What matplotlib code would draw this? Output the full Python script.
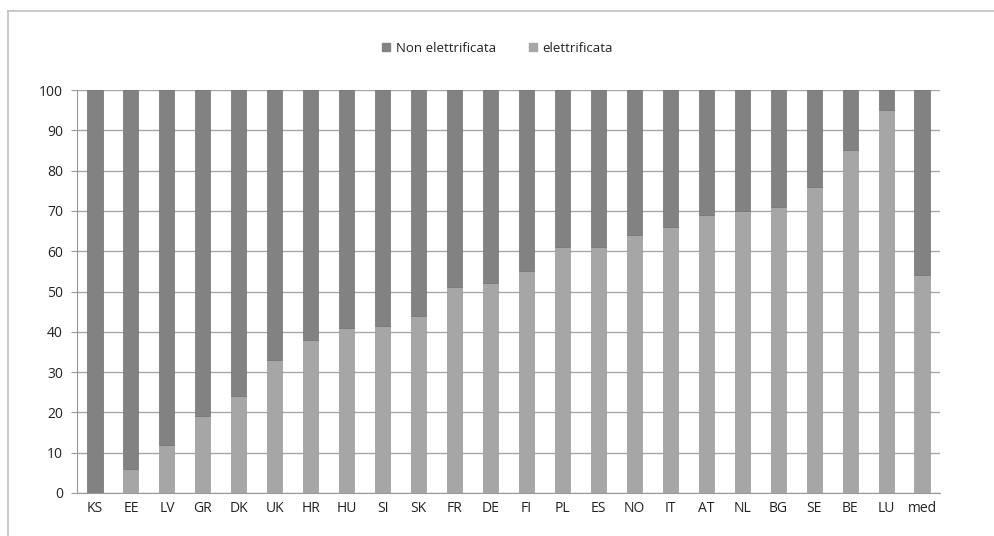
import matplotlib.pyplot as plt
from matplotlib.lines import Line2D

plt.rcParams['font.family'] = ['Open Sans', 'DejaVu Sans']

# Data (percentages)
paesi = ['KS', 'EE', 'LV', 'GR', 'DK', 'UK', 'HR', 'HU', 'SI', 'SK', 'FR', 'DE',
         'FI', 'PL', 'ES', 'NO', 'IT', 'AT', 'NL', 'BG', 'SE', 'BE', 'LU', 'med']
elettrificata = [0, 6, 12, 19, 24, 33, 38, 41, 41.5, 44, 51, 52,
                 55, 61, 61, 64, 66, 69, 70, 71, 76, 85, 95, 54]
non_elettrificata = [100 - v for v in elettrificata]

col_non = '#828282'
col_el = '#a6a6a6'

fig = plt.figure(figsize=(9.95, 5.36), dpi=100)
ax = fig.add_axes([77 / 995, 1 - 493 / 536, (940 - 77) / 995, (493 - 90) / 536])

x = range(len(paesi))
ax.bar(x, elettrificata, width=0.42, color=col_el, edgecolor='#999999', linewidth=0.5,
       label='elettrificata', zorder=3)
ax.bar(x, non_elettrificata, width=0.42, bottom=elettrificata, color=col_non,
       edgecolor='#707070', linewidth=0.5, label='Non elettrificata', zorder=3)

ax.set_xlim(-0.5, len(paesi) - 0.5)
ax.set_ylim(0, 100)
ax.set_yticks(range(0, 101, 10))
ax.set_xticks(list(x))
ax.set_xticklabels(paesi)
ax.grid(axis='y', color='#a8a8a8', linewidth=1, zorder=0)
ax.tick_params(axis='both', labelsize=10, colors='#222222', length=4, width=0.8)
ax.tick_params(axis='x', length=0, pad=6)
ax.tick_params(axis='y', colors='#999999', labelcolor='#222222', pad=6)
for s in ['top', 'right']:
    ax.spines[s].set_visible(False)
ax.spines['left'].set_color('#999999')
ax.spines['bottom'].set_color('#999999')

handles = [plt.Rectangle((0, 0), 1, 1, color=col_non), plt.Rectangle((0, 0), 1, 1, color=col_el)]
leg = fig.legend(handles, ['Non elettrificata', 'elettrificata'], loc='center',
                 bbox_to_anchor=(0.5, 1 - 48 / 536), ncol=2, frameon=False, fontsize=9.5,
                 handlelength=0.6, handleheight=0.6, columnspacing=2.5, handletextpad=0.4)
for t in leg.get_texts():
    t.set_color('#222222')

# outer frame (top and left edges)
fig.add_artist(Line2D([8 / 995, 1], [1 - 11 / 536] * 2, color='#c0c0c0', linewidth=1.2,
                      transform=fig.transFigure))
fig.add_artist(Line2D([8 / 995] * 2, [0, 1 - 11 / 536], color='#c0c0c0', linewidth=1.2,
                      transform=fig.transFigure))

fig.savefig('out.png', dpi=100)
